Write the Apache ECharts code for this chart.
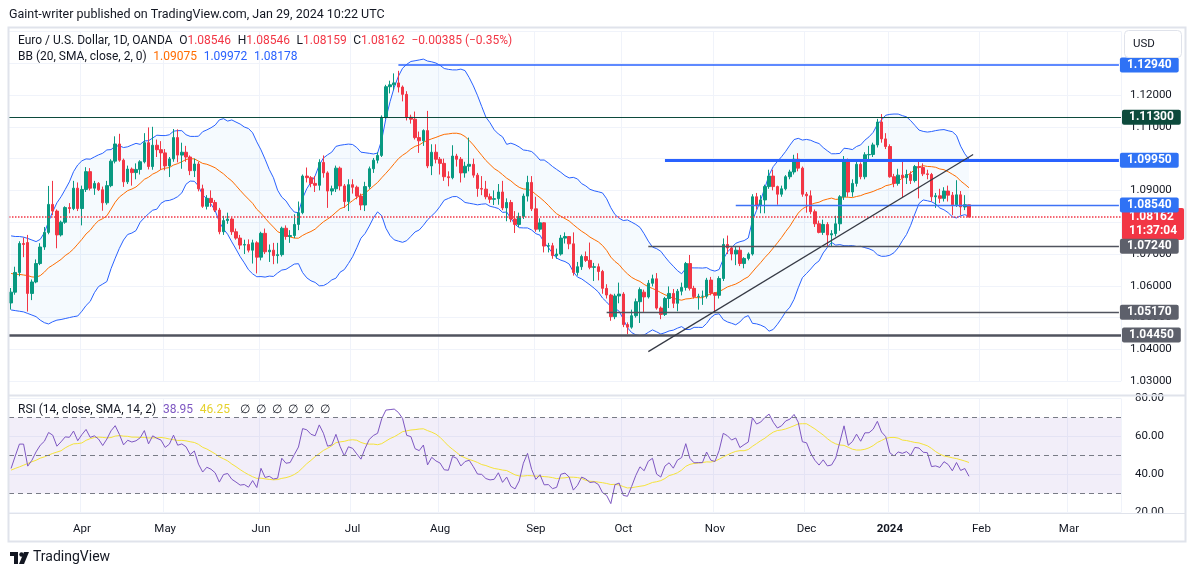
<!DOCTYPE html>
<html>
<head>
<meta charset="utf-8">
<script src="https://cdn.jsdelivr.net/npm/echarts/dist/echarts.min.js"></script>
<style>
  html, body { margin: 0; padding: 0; background: #fff; }
  #chart { width: 1195px; height: 577px; }
</style>
</head>
<body>
<div id="chart"></div>
<script>
// EUR/USD daily, Mar 9 2023 .. Jan 29 2024 (OANDA).
// rows are [open, close, low, high]
const ohlc = [
  [1.0546, 1.0580, 1.0525, 1.0593], [1.0580, 1.0642, 1.0572, 1.0660], [1.0642, 1.0733, 1.0630, 1.0740],
  [1.0733, 1.0730, 1.0690, 1.0752], [1.0736, 1.0576, 1.0519, 1.0760], [1.0576, 1.0612, 1.0555, 1.0620],
  [1.0612, 1.0670, 1.0608, 1.0683], [1.0670, 1.0722, 1.0665, 1.0734], [1.0722, 1.0768, 1.0713, 1.0785],
  [1.0768, 1.0856, 1.0762, 1.0914], [1.0856, 1.0835, 1.0822, 1.0930], [1.0835, 1.0760, 1.0718, 1.0840],
  [1.0760, 1.0800, 1.0755, 1.0805], [1.0800, 1.0846, 1.0795, 1.0850], [1.0846, 1.0843, 1.0828, 1.0860],
  [1.0843, 1.0907, 1.0838, 1.0930], [1.0907, 1.0843, 1.0835, 1.0925], [1.0843, 1.0903, 1.0790, 1.0915],
  [1.0903, 1.0959, 1.0895, 1.0973], [1.0959, 1.0907, 1.0900, 1.0970], [1.0907, 1.0922, 1.0886, 1.0930],
  [1.0922, 1.0902, 1.0898, 1.0926], [1.0902, 1.0861, 1.0836, 1.0912], [1.0861, 1.0915, 1.0855, 1.0930],
  [1.0915, 1.0992, 1.0910, 1.0998], [1.0992, 1.1046, 1.0985, 1.1070], [1.1046, 1.0995, 1.0990, 1.1078],
  [1.0995, 1.0927, 1.0911, 1.1000], [1.0927, 1.0967, 1.0920, 1.0978], [1.0967, 1.0956, 1.0915, 1.0972],
  [1.0956, 1.0966, 1.0935, 1.0985], [1.0966, 1.0990, 1.0950, 1.0995], [1.0990, 1.1050, 1.0985, 1.1080],
  [1.1050, 1.0975, 1.0966, 1.1098], [1.0975, 1.1042, 1.0965, 1.1100], [1.1042, 1.1028, 1.1005, 1.1060],
  [1.1028, 1.1018, 1.0965, 1.1055], [1.1018, 1.0977, 1.0963, 1.1030], [1.0977, 1.0999, 1.0942, 1.1005],
  [1.0999, 1.1066, 1.0990, 1.1093], [1.1066, 1.1011, 1.0988, 1.1092], [1.1011, 1.1020, 1.0968, 1.1050],
  [1.1020, 1.1005, 1.0990, 1.1040], [1.1005, 1.0962, 1.0948, 1.1010], [1.0962, 1.0983, 1.0942, 1.1000],
  [1.0983, 1.0905, 1.0897, 1.0990], [1.0905, 1.0850, 1.0845, 1.0918], [1.0850, 1.0875, 1.0840, 1.0885],
  [1.0875, 1.0862, 1.0848, 1.0900], [1.0862, 1.0838, 1.0832, 1.0870], [1.0838, 1.0770, 1.0762, 1.0845],
  [1.0770, 1.0805, 1.0760, 1.0820], [1.0805, 1.0810, 1.0795, 1.0830], [1.0810, 1.0770, 1.0760, 1.0815],
  [1.0770, 1.0750, 1.0745, 1.0780], [1.0750, 1.0728, 1.0715, 1.0760], [1.0728, 1.0730, 1.0700, 1.0745],
  [1.0730, 1.0712, 1.0705, 1.0746], [1.0712, 1.0735, 1.0670, 1.0745], [1.0735, 1.0690, 1.0639, 1.0740],
  [1.0690, 1.0765, 1.0680, 1.0770], [1.0765, 1.0707, 1.0700, 1.0780], [1.0707, 1.0712, 1.0675, 1.0730],
  [1.0712, 1.0695, 1.0668, 1.0735], [1.0695, 1.0698, 1.0670, 1.0735], [1.0698, 1.0781, 1.0692, 1.0786],
  [1.0781, 1.0755, 1.0745, 1.0790], [1.0755, 1.0758, 1.0735, 1.0775], [1.0758, 1.0793, 1.0750, 1.0825],
  [1.0793, 1.0830, 1.0775, 1.0865], [1.0830, 1.0945, 1.0825, 1.0950], [1.0945, 1.0940, 1.0925, 1.0972],
  [1.0940, 1.0922, 1.0910, 1.0945], [1.0922, 1.0916, 1.0895, 1.0945], [1.0916, 1.0988, 1.0900, 1.0998],
  [1.0988, 1.0955, 1.0940, 1.1010], [1.0955, 1.0898, 1.0845, 1.0960], [1.0898, 1.0905, 1.0885, 1.0915],
  [1.0905, 1.0970, 1.0895, 1.0978], [1.0970, 1.0914, 1.0900, 1.0975], [1.0914, 1.0865, 1.0845, 1.0920],
  [1.0865, 1.0918, 1.0835, 1.0935], [1.0918, 1.0910, 1.0890, 1.0935], [1.0910, 1.0882, 1.0872, 1.0915],
  [1.0882, 1.0854, 1.0838, 1.0890], [1.0854, 1.0912, 1.0835, 1.0927], [1.0912, 1.0968, 1.0905, 1.0975],
  [1.0968, 1.0995, 1.0955, 1.1002], [1.0995, 1.1010, 1.0985, 1.1020], [1.1010, 1.1130, 1.1005, 1.1136],
  [1.1130, 1.1226, 1.1125, 1.1232], [1.1226, 1.1232, 1.1205, 1.1245], [1.1232, 1.1238, 1.1215, 1.1268],
  [1.1238, 1.1225, 1.1208, 1.1276], [1.1225, 1.1202, 1.1180, 1.1230], [1.1202, 1.1130, 1.1120, 1.1212],
  [1.1130, 1.1124, 1.1110, 1.1138], [1.1124, 1.1066, 1.1060, 1.1148], [1.1066, 1.1056, 1.1018, 1.1085],
  [1.1056, 1.1088, 1.1040, 1.1092], [1.1088, 1.0977, 1.0970, 1.1150], [1.0977, 1.1020, 1.0948, 1.1045],
  [1.1020, 1.0998, 1.0985, 1.1045], [1.0998, 1.0985, 1.0950, 1.1005], [1.0985, 1.0943, 1.0930, 1.1000],
  [1.0943, 1.0940, 1.0913, 1.0960], [1.0940, 1.1008, 1.0935, 1.1042], [1.1008, 1.0998, 1.0975, 1.1015],
  [1.0998, 1.0955, 1.0925, 1.1005], [1.0955, 1.0976, 1.0940, 1.0990], [1.0976, 1.0982, 1.0960, 1.1066],
  [1.0982, 1.0948, 1.0940, 1.1000], [1.0948, 1.0906, 1.0880, 1.0955], [1.0906, 1.0904, 1.0885, 1.0945],
  [1.0904, 1.0880, 1.0872, 1.0930], [1.0880, 1.0872, 1.0860, 1.0890], [1.0872, 1.0874, 1.0854, 1.0900],
  [1.0874, 1.0895, 1.0855, 1.0920], [1.0895, 1.0845, 1.0838, 1.0930], [1.0845, 1.0862, 1.0803, 1.0875],
  [1.0862, 1.0810, 1.0800, 1.0870], [1.0810, 1.0793, 1.0766, 1.0835], [1.0793, 1.0818, 1.0785, 1.0830],
  [1.0818, 1.0882, 1.0810, 1.0890], [1.0882, 1.0925, 1.0865, 1.0946], [1.0925, 1.0842, 1.0835, 1.0945],
  [1.0842, 1.0778, 1.0770, 1.0880], [1.0778, 1.0798, 1.0770, 1.0812], [1.0798, 1.0725, 1.0705, 1.0800],
  [1.0725, 1.0726, 1.0705, 1.0735], [1.0726, 1.0695, 1.0685, 1.0735], [1.0695, 1.0700, 1.0685, 1.0717],
  [1.0700, 1.0750, 1.0695, 1.0760], [1.0750, 1.0755, 1.0733, 1.0768], [1.0755, 1.0732, 1.0715, 1.0755],
  [1.0732, 1.0642, 1.0632, 1.0768], [1.0642, 1.0660, 1.0632, 1.0675], [1.0660, 1.0692, 1.0650, 1.0698],
  [1.0692, 1.0680, 1.0675, 1.0708], [1.0680, 1.0658, 1.0652, 1.0736], [1.0658, 1.0660, 1.0615, 1.0672],
  [1.0660, 1.0645, 1.0617, 1.0670], [1.0645, 1.0592, 1.0575, 1.0650], [1.0592, 1.0571, 1.0560, 1.0605],
  [1.0571, 1.0503, 1.0490, 1.0575], [1.0503, 1.0568, 1.0495, 1.0575], [1.0568, 1.0574, 1.0545, 1.0610],
  [1.0574, 1.0478, 1.0470, 1.0580], [1.0478, 1.0470, 1.0448, 1.0485], [1.0470, 1.0506, 1.0465, 1.0525],
  [1.0506, 1.0550, 1.0500, 1.0560], [1.0550, 1.0588, 1.0483, 1.0595], [1.0580, 1.0565, 1.0518, 1.0588],
  [1.0565, 1.0608, 1.0560, 1.0618], [1.0608, 1.0622, 1.0598, 1.0635], [1.0622, 1.0530, 1.0525, 1.0640],
  [1.0530, 1.0510, 1.0495, 1.0535], [1.0510, 1.0560, 1.0505, 1.0565], [1.0560, 1.0576, 1.0530, 1.0598],
  [1.0576, 1.0545, 1.0530, 1.0590], [1.0545, 1.0583, 1.0520, 1.0590], [1.0583, 1.0595, 1.0570, 1.0610],
  [1.0595, 1.0670, 1.0585, 1.0675], [1.0670, 1.0592, 1.0585, 1.0697], [1.0592, 1.0566, 1.0560, 1.0600],
  [1.0566, 1.0567, 1.0525, 1.0575], [1.0567, 1.0567, 1.0540, 1.0585], [1.0567, 1.0618, 1.0560, 1.0625],
  [1.0618, 1.0577, 1.0570, 1.0628], [1.0577, 1.0570, 1.0517, 1.0580], [1.0570, 1.0623, 1.0560, 1.0630],
  [1.0623, 1.0730, 1.0615, 1.0749], [1.0730, 1.0719, 1.0700, 1.0758], [1.0719, 1.0700, 1.0680, 1.0722],
  [1.0700, 1.0712, 1.0665, 1.0722], [1.0712, 1.0670, 1.0662, 1.0722], [1.0670, 1.0686, 1.0655, 1.0690],
  [1.0686, 1.0700, 1.0680, 1.0705], [1.0700, 1.0880, 1.0695, 1.0888], [1.0880, 1.0852, 1.0840, 1.0892],
  [1.0852, 1.0870, 1.0828, 1.0885], [1.0870, 1.0912, 1.0828, 1.0918], [1.0912, 1.0945, 1.0905, 1.0965],
  [1.0945, 1.0912, 1.0900, 1.0965], [1.0912, 1.0888, 1.0855, 1.0915], [1.0888, 1.0905, 1.0880, 1.0915],
  [1.0905, 1.0943, 1.0900, 1.0948], [1.0943, 1.0958, 1.0935, 1.0965], [1.0958, 1.0998, 1.0950, 1.1012],
  [1.0998, 1.0970, 1.0960, 1.1017], [1.0970, 1.0888, 1.0880, 1.0975], [1.0888, 1.0883, 1.0830, 1.0895],
  [1.0883, 1.0833, 1.0825, 1.0900], [1.0833, 1.0795, 1.0785, 1.0840], [1.0795, 1.0768, 1.0765, 1.0805],
  [1.0768, 1.0793, 1.0760, 1.0808], [1.0793, 1.0760, 1.0724, 1.0800], [1.0760, 1.0764, 1.0724, 1.0775],
  [1.0764, 1.0795, 1.0755, 1.0820], [1.0795, 1.0880, 1.0773, 1.0885], [1.0880, 1.0997, 1.0870, 1.1008],
  [1.0997, 1.0895, 1.0880, 1.1000], [1.0895, 1.0922, 1.0880, 1.0935], [1.0922, 1.0982, 1.0912, 1.0990],
  [1.0982, 1.0943, 1.0935, 1.0988], [1.0943, 1.1012, 1.0935, 1.1020], [1.1012, 1.1013, 1.0990, 1.1040],
  [1.1013, 1.1043, 1.1005, 1.1050], [1.1043, 1.1115, 1.1035, 1.1125], [1.1115, 1.1062, 1.1050, 1.1140],
  [1.1062, 1.1038, 1.1030, 1.1080], [1.1038, 1.0943, 1.0940, 1.1045], [1.0943, 1.0922, 1.0910, 1.0952],
  [1.0922, 1.0948, 1.0915, 1.0968], [1.0948, 1.0940, 1.0878, 1.0998], [1.0940, 1.0950, 1.0920, 1.0965],
  [1.0950, 1.0931, 1.0920, 1.0960], [1.0931, 1.0975, 1.0925, 1.0980], [1.0975, 1.0972, 1.0875, 1.0997],
  [1.0972, 1.0952, 1.0945, 1.0985], [1.0952, 1.0950, 1.0935, 1.0965], [1.0950, 1.0880, 1.0865, 1.0955],
  [1.0880, 1.0883, 1.0845, 1.0892], [1.0883, 1.0875, 1.0860, 1.0905], [1.0875, 1.0898, 1.0865, 1.0910],
  [1.0898, 1.0885, 1.0865, 1.0915], [1.0885, 1.0855, 1.0822, 1.0895], [1.0855, 1.0886, 1.0848, 1.0932],
  [1.0886, 1.0848, 1.0822, 1.0898], [1.0848, 1.0855, 1.0838, 1.0885], [1.08546, 1.08162, 1.08159, 1.08546],
];

// first bar date, non-trading days skipped, number of slots incl. empty future space
const startDate = "2023-03-09";
const skipDays = ["2023-12-25", "2024-01-01"];
const slotCount = 267;
const monthNames = ["Jan", "Feb", "Mar", "Apr", "May", "Jun", "Jul", "Aug", "Sep", "Oct", "Nov", "Dec"];

// Bollinger band values for the first 19 bars (before a full 20-bar window)
const bbHeadUpper = [1.0757, 1.0755, 1.0755, 1.0753, 1.0749, 1.0744, 1.0739, 1.0746, 1.0767, 1.0802,
  1.0833, 1.0861, 1.0880, 1.0903, 1.0927, 1.0959, 1.0980, 1.0993, 1.0999];
const bbHeadBasis = [1.0639, 1.0636, 1.0636, 1.0634, 1.0632, 1.0628, 1.0627, 1.0632, 1.0643, 1.0657,
  1.0665, 1.0674, 1.0683, 1.0695, 1.0704, 1.0716, 1.0731, 1.0746, 1.0763];
const bbHeadLower = [1.0524, 1.0522, 1.0520, 1.0518, 1.0513, 1.0508, 1.0503, 1.0492, 1.0484, 1.0480,
  1.0487, 1.0492, 1.0494, 1.0497, 1.0500, 1.0503, 1.0505, 1.0520, 1.0538];

// RSI and its SMA for the first bars
const rsiHead = [43.2, 49.7, 56.0, 56.0, 44.4, 47.5, 51.9, 55.4, 57.5, 62.1, 60.7, 54.9, 57.2, 59.8];
const rsiMaHead = [42.3, 43.2, 44.0, 44.9, 45.8, 46.7, 47.5, 48.6, 49.3, 50.2, 51.1, 51.8, 52.5];

// horizontal levels drawn on the chart and the bar each one starts from (null = full width)
const levelPrices = [1.1294, 1.1130, 1.0995, 1.0854, 1.0724, 1.0517, 1.0445];
const levelStarts = ["2023-07-18", null, "2023-10-16", "2023-11-08", "2023-10-10", "2023-09-26", null];
const lastPrice = 1.08162;
const countdown = "11:37:04";
const trendFrom = ["2023-10-10", 1.0393];
const trendTo = ["2024-01-30", 1.1013];

const UP = "#089981";
const DOWN = "#f23645";
const BLUE = "#2962ff";
const FONT = "Roboto, 'Liberation Sans', sans-serif";

function buildDates() {
  const out = [];
  const d = new Date(startDate + "T00:00:00Z");
  while (out.length < slotCount) {
    const wd = d.getUTCDay();
    const s = d.toISOString().slice(0, 10);
    if (wd !== 0 && wd !== 6 && !skipDays.includes(s)) {
      out.push(s);
    }
    d.setUTCDate(d.getUTCDate() + 1);
  }
  return out;
}

const dates = buildDates();
const closes = ohlc.map((r) => r[1]);

const isMonthStart = (i) => i > 0 && dates[i].slice(0, 7) !== dates[i - 1].slice(0, 7);

// BB(20, 2) on closes
const bbUpper = [];
const bbBasis = [];
const bbLower = [];
closes.forEach((c, i) => {
  if (i < bbHeadBasis.length) {
    bbUpper.push(bbHeadUpper[i]);
    bbBasis.push(bbHeadBasis[i]);
    bbLower.push(bbHeadLower[i]);
    return;
  }
  const win = closes.slice(i - 19, i + 1);
  const mean = win.reduce((a, b) => a + b, 0) / 20;
  const sd = Math.sqrt(win.reduce((a, b) => a + (b - mean) ** 2, 0) / 20);
  bbUpper.push(mean + 2 * sd);
  bbBasis.push(mean);
  bbLower.push(mean - 2 * sd);
});

// RSI(14), Wilder smoothing, started from the last value
const rsi = rsiHead.slice();
let mag = 0;
for (let i = 1; i < rsiHead.length; i++) {
  mag += Math.abs(closes[i] - closes[i - 1]);
}
mag /= rsiHead.length - 1;
let avgGain = (mag * rsiHead[rsiHead.length - 1]) / 100;
let avgLoss = mag - avgGain;
for (let i = rsiHead.length; i < closes.length; i++) {
  const ch = closes[i] - closes[i - 1];
  avgGain = (avgGain * 13 + Math.max(ch, 0)) / 14;
  avgLoss = (avgLoss * 13 + Math.max(-ch, 0)) / 14;
  rsi.push(100 - 100 / (1 + avgGain / avgLoss));
}
const rsiMa = rsi.map((v, i) => {
  if (i < rsiMaHead.length) {
    return rsiMaHead[i];
  }
  const win = rsi.slice(i - 13, i + 1);
  return win.reduce((a, b) => a + b, 0) / 14;
});

function badge(color, text) {
  return {
    show: true,
    position: "end",
    distance: 1,
    formatter: text,
    color: "#fff",
    backgroundColor: color,
    fontFamily: FONT,
    fontSize: 12,
    fontWeight: "bold",
    lineHeight: 13,
    padding: [1, 7, 1, 7],
    borderRadius: 2,
  };
}

const levelStyles = [
  { color: "#2962ff", width: 1.5, badge: "#2f72f5" },
  { color: "#0c4a3c", width: 1, badge: "#0c4a3c" },
  { color: BLUE, width: 3, badge: "#2f72f5" },
  { color: "#3d72f5", width: 1.3, badge: "#2f72f5" },
  { color: "#50535e", width: 1.3, badge: "#5d606b" },
  { color: "#50535e", width: 1.3, badge: "#5d606b" },
  { color: "#50535e", width: 2.5, badge: "#5d606b" },
];

const levelLines = levelPrices.map((p, k) => {
  const st = levelStyles[k];
  const head = {
    lineStyle: { color: st.color, width: st.width, type: "solid" },
    label: badge(st.badge, p.toFixed(5)),
  };
  if (levelStarts[k] === null) {
    return Object.assign({ yAxis: p }, head);
  }
  return [Object.assign({ coord: [levelStarts[k], p] }, head), { coord: [dates[dates.length - 1], p] }];
});

const markLines = [
  {
    yAxis: lastPrice,
    lineStyle: { color: "#f23645", width: 1.5, type: "dotted", opacity: 1 },
    label: Object.assign(badge("#f23645", lastPrice.toFixed(5) + "\n" + countdown), {
      lineHeight: 14,
      padding: [2, 7, 2, 7],
      offset: [0, 7],
    }),
  },
  ...levelLines,
  [
    { coord: trendFrom, lineStyle: { color: "#363a45", width: 1.2, type: "solid" }, label: { show: false } },
    { coord: trendTo },
  ],
];

const chart = echarts.init(document.getElementById("chart"), null, { renderer: "canvas" });

const axisText = { color: "#131722", fontFamily: FONT, fontSize: 11.5 };
const gridLine = { show: true, lineStyle: { color: "#f0f3fa", width: 1 } };

const xBase = {
  type: "category",
  data: dates,
  boundaryGap: true,
  axisLine: { show: false },
  axisTick: { show: false },
  splitLine: { show: true, interval: (i) => isMonthStart(i), lineStyle: { color: "#f0f3fa", width: 1 } },
};

chart.setOption({
  animation: false,
  backgroundColor: "#ffffff",
  grid: [
    { left: 9, width: 1112, top: 31.4, height: 349.8, outerBoundsMode: "none" },
    { left: 9, width: 1112, top: 398.5, height: 114, outerBoundsMode: "none" },
  ],
  xAxis: [
    Object.assign({ gridIndex: 0, axisLabel: { show: false } }, xBase),
    Object.assign({ gridIndex: 1 }, xBase, {
      axisLabel: {
        show: true,
        interval: (i) => isMonthStart(i),
        margin: 11,
        ...axisText,
        formatter: (v) => {
          const m = Number(v.slice(5, 7));
          return m === 1 ? "{y|" + v.slice(0, 4) + "}" : monthNames[m - 1];
        },
        rich: { y: { fontWeight: "bold", fontFamily: FONT, fontSize: 11.5, color: "#131722" } },
      },
    }),
  ],
  yAxis: [
    {
      gridIndex: 0,
      position: "right",
      min: 1.03,
      max: 1.14,
      interval: 0.01,
      axisLine: { show: false },
      axisTick: { show: false },
      splitLine: gridLine,
      axisLabel: { ...axisText, margin: 9, formatter: (v) => (v > 1.1395 ? "" : v.toFixed(5)) },
    },
    {
      gridIndex: 1,
      position: "right",
      min: 20,
      max: 80,
      interval: 20,
      axisLine: { show: false },
      axisTick: { show: false },
      splitLine: gridLine,
      axisLabel: { ...axisText, margin: 14, formatter: (v) => v.toFixed(2) },
    },
  ],
  series: [
    {
      name: "bbBase",
      type: "line",
      data: bbLower,
      stack: "bb",
      symbol: "none",
      lineStyle: { opacity: 0 },
      z: 1,
    },
    {
      name: "bbFill",
      type: "line",
      data: bbUpper.map((u, i) => u - bbLower[i]),
      stack: "bb",
      symbol: "none",
      lineStyle: { opacity: 0 },
      areaStyle: { color: "rgba(33,150,243,0.06)" },
      z: 1,
    },
    {
      name: "Upper",
      type: "line",
      data: bbUpper,
      symbol: "none",
      lineStyle: { color: BLUE, width: 1 },
      z: 2,
    },
    {
      name: "Lower",
      type: "line",
      data: bbLower,
      symbol: "none",
      lineStyle: { color: BLUE, width: 1 },
      z: 2,
    },
    {
      name: "Basis",
      type: "line",
      data: bbBasis,
      symbol: "none",
      lineStyle: { color: "#ff6d00", width: 1 },
      z: 2,
    },
    {
      name: "EURUSD",
      type: "candlestick",
      data: ohlc,
      barWidth: 3,
      z: 3,
      itemStyle: { color: UP, color0: DOWN, borderColor: UP, borderColor0: DOWN, borderWidth: 1 },
      markLine: { silent: true, precision: 5, symbol: ["none", "none"], animation: false, data: markLines },
    },
    {
      name: "RSI",
      type: "line",
      xAxisIndex: 1,
      yAxisIndex: 1,
      data: rsi,
      symbol: "none",
      lineStyle: { color: "#7e57c2", width: 1 },
      z: 3,
      markArea: {
        silent: true,
        itemStyle: { color: "rgba(126,87,194,0.1)" },
        data: [[{ yAxis: 30 }, { yAxis: 70 }]],
      },
      markLine: {
        silent: true,
        symbol: ["none", "none"],
        label: { show: false },
        lineStyle: { color: "#787b86", width: 1, type: [5, 4] },
        data: [{ yAxis: 70 }, { yAxis: 50 }, { yAxis: 30 }],
      },
    },
    {
      name: "RSI MA",
      type: "line",
      xAxisIndex: 1,
      yAxisIndex: 1,
      data: rsiMa,
      symbol: "none",
      lineStyle: { color: "#f5e33a", width: 1 },
      z: 2,
    },
  ],
  graphic: [
    {
      type: "text",
      left: 9,
      top: 8,
      style: { text: "Gaint-writer published on TradingView.com, Jan 29, 2024 10:22 UTC", fill: "#131722", font: "12.5px " + FONT },
    },
    {
      type: "rect",
      z: 50,
      shape: { x: 8.5, y: 27.5, width: 1177, height: 514 },
      style: { fill: "none", stroke: "#e0e3eb", lineWidth: 2 },
    },
    {
      type: "line",
      z: 50,
      shape: { x1: 9, y1: 395.5, x2: 1185, y2: 395.5 },
      style: { stroke: "#e0e3eb", lineWidth: 2 },
    },
    {
      type: "rect",
      z: 49,
      shape: { x: 1122, y: 514, width: 62, height: 8 },
      style: { fill: "#ffffff" },
    },
    {
      type: "line",
      z: 50,
      shape: { x1: 9, y1: 513.5, x2: 1185, y2: 513.5 },
      style: { stroke: "#e0e3eb", lineWidth: 1 },
    },
    {
      type: "rect",
      z: 60,
      shape: { x: 1124.5, y: 30.5, width: 57, height: 27, r: 4 },
      style: { fill: "#fff", stroke: "#e0e3eb", lineWidth: 1 },
    },
    {
      type: "text",
      z: 61,
      left: 1133,
      top: 38,
      style: { text: "USD", fill: "#131722", font: "11.5px " + FONT },
    },
    {
      type: "text",
      z: 61,
      left: 18,
      top: 35,
      style: {
        text: "{d|Euro / U.S. Dollar, 1D, OANDA}  {d|O}{r|1.08546}  {d|H}{r|1.08546}  {d|L}{r|1.08159}  {d|C}{r|1.08162}  {r|−0.00385 (−0.35%)}",
        rich: {
          d: { fill: "#131722", font: "12px " + FONT },
          r: { fill: "#f23645", font: "12px " + FONT },
        },
      },
    },
    {
      type: "text",
      z: 61,
      left: 18,
      top: 51,
      style: {
        text: "{d|BB (20, SMA, close, 2, 0)}  {o|1.09075}  {b|1.09972}  {b|1.08178}",
        rich: {
          d: { fill: "#131722", font: "12px " + FONT },
          o: { fill: "#ff6d00", font: "12px " + FONT },
          b: { fill: "#2962ff", font: "12px " + FONT },
        },
      },
    },
    {
      type: "text",
      z: 61,
      left: 18,
      top: 404,
      style: {
        text: "{d|RSI (14, close, SMA, 14, 2)}  {p|38.95}  {y|46.25}   {d|∅  ∅  ∅  ∅  ∅  ∅}",
        rich: {
          d: { fill: "#131722", font: "12px " + FONT },
          p: { fill: "#7e57c2", font: "12px " + FONT },
          y: { fill: "#e5d12c", font: "12px " + FONT },
        },
      },
    },
    {
      type: "group",
      left: 10,
      top: 552,
      children: [
        { type: "rect", shape: { x: 0, y: 0, width: 8, height: 4 }, style: { fill: "#131722" } },
        { type: "rect", shape: { x: 4, y: 0, width: 4, height: 12 }, style: { fill: "#131722" } },
        { type: "circle", shape: { cx: 11.5, cy: 2.5, r: 2.2 }, style: { fill: "#131722" } },
        { type: "polygon", shape: { points: [[14, 0], [19, 0], [14, 12], [9, 12]] }, style: { fill: "#131722" } },
      ],
    },
    {
      type: "text",
      left: 33,
      top: 550,
      style: { text: "TradingView", fill: "#131722", font: "14px " + FONT },
    },
  ],
});
</script>
</body>
</html>
